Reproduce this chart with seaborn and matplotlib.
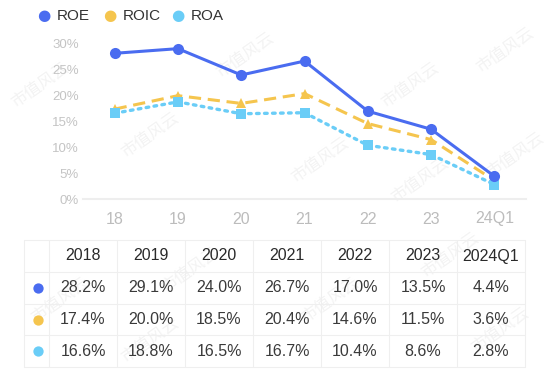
import matplotlib
matplotlib.use("Agg")
import matplotlib.pyplot as plt
import seaborn as sns
import pandas as pd

periods = ["18", "19", "20", "21", "22", "23", "24Q1"]
years = ["2018", "2019", "2020", "2021", "2022", "2023", "2024Q1"]
roe = [28.2, 29.1, 24.0, 26.7, 17.0, 13.5, 4.4]
roic = [17.4, 20.0, 18.5, 20.4, 14.6, 11.5, 3.6]
roa = [16.6, 18.8, 16.5, 16.7, 10.4, 8.6, 2.8]
yticks = [0, 5, 10, 15, 20, 25, 30]

names = ["ROE", "ROIC", "ROA"]
colors = ["#4a6cf0", "#f5c54e", "#6acdf7"]
markers = ["o", "^", "s"]
dashes = ["-", (0, (4, 2.2)), (0, (0.8, 1.6))]

sns.set_theme(style="white")
plt.rcParams["font.family"] = ["Liberation Sans", "DejaVu Sans"]

fig = plt.figure(figsize=(5.5, 3.71), dpi=100)
W, H = 550, 371

# watermark
for wx, wy in [(40, 85), (150, 135), (245, 55), (320, 160), (410, 85), (505, 50),
               (60, 300), (190, 270), (330, 300), (450, 255), (500, 330), (150, 340),
               (420, 180), (515, 155)]:
    fig.text(wx / W, 1 - wy / H, "市值风云", rotation=35, fontsize=12, color="#f3f3f3",
             family=["Noto Sans CJK SC"], ha="center", va="center", zorder=-5)

ax = fig.add_axes([83 / W, 1 - 199 / H, (526 - 83) / W, (199 - 44) / H])
ax.patch.set_alpha(0)
df = pd.DataFrame({"period": periods * 3,
                   "value": roe + roic + roa,
                   "metric": sum([[n] * len(periods) for n in names], [])})
df["x"] = list(range(len(periods))) * 3

msize = {"ROE": 8, "ROIC": 7.5, "ROA": 7}
for n, c, m, d in zip(names, colors, markers, dashes):
    sub = df[df.metric == n]
    sns.lineplot(data=sub, x="x", y="value", color=c, ax=ax, lw=2.2 if n != "ROA" else 2.4,
                 linestyle=d, marker=m, markersize=msize[n],
                 markeredgewidth=0, clip_on=False, zorder=3 if n == "ROE" else 2,
                 dash_capstyle="round" if n == "ROA" else "butt")

ax.set_xlim(-0.5, 6.5)
ax.set_ylim(0, 30)
ax.set_yticks(yticks)
ax.set_yticklabels([f"{t}%" for t in yticks], fontsize=9.5, color="#c4c4c4")
ax.set_xticks(range(len(periods)))
ax.set_xticklabels(periods, fontsize=11.5, color="#bcbcbc")
ax.tick_params(axis="both", length=0, pad=3)
ax.tick_params(axis="x", pad=9)
ax.set_xlabel("")
ax.set_ylabel("")
for s in ["top", "right", "left"]:
    ax.spines[s].set_visible(False)
ax.spines["bottom"].set_color("#eeeeee")
ax.spines["bottom"].set_linewidth(1.5)

# legend
lx = [44, 110, 178]
for x0, n, c in zip(lx, names, colors):
    fig.text(x0 / W, 1 - 16 / H, "●", color=c, fontsize=11, ha="center", va="center",
             family=["DejaVu Sans"])
    fig.text((x0 + 13) / W, 1 - 16 / H, n, color="#333333", fontsize=11, ha="left", va="center")

# table
tax = fig.add_axes([0, 0, 1, 1])
tax.patch.set_alpha(0)
tax.set_xlim(0, W)
tax.set_ylim(H, 0)
tax.axis("off")
col_edges = [24, 49] + [49 + 68 * (i + 1) for i in range(7)]
col_edges[-1] = 525
row_edges = [240, 272, 304, 335, 367]
for xe in col_edges:
    tax.plot([xe, xe], [row_edges[0], row_edges[-1]], color="#efefef", lw=0.8)
for ye in row_edges:
    tax.plot([col_edges[0], col_edges[-1]], [ye, ye], color="#efefef", lw=0.8)
centers = [(col_edges[i] + col_edges[i + 1]) / 2 for i in range(len(col_edges) - 1)]
rcent = [(row_edges[i] + row_edges[i + 1]) / 2 for i in range(4)]
for j, yname in enumerate(years):
    tax.text(centers[j + 1], rcent[0], yname, ha="center", va="center", fontsize=11.5,
             color="#2a2a2a")
for i, (vals, c) in enumerate(zip([roe, roic, roa], colors)):
    tax.scatter([centers[0] + 1], [rcent[i + 1]], s=55, color=c, linewidths=0)
    for j, v in enumerate(vals):
        tax.text(centers[j + 1], rcent[i + 1], f"{v:.1f}%", ha="center", va="center",
                 fontsize=11.5, color="#3a3a3a")

fig.savefig("out.png", dpi=100)
